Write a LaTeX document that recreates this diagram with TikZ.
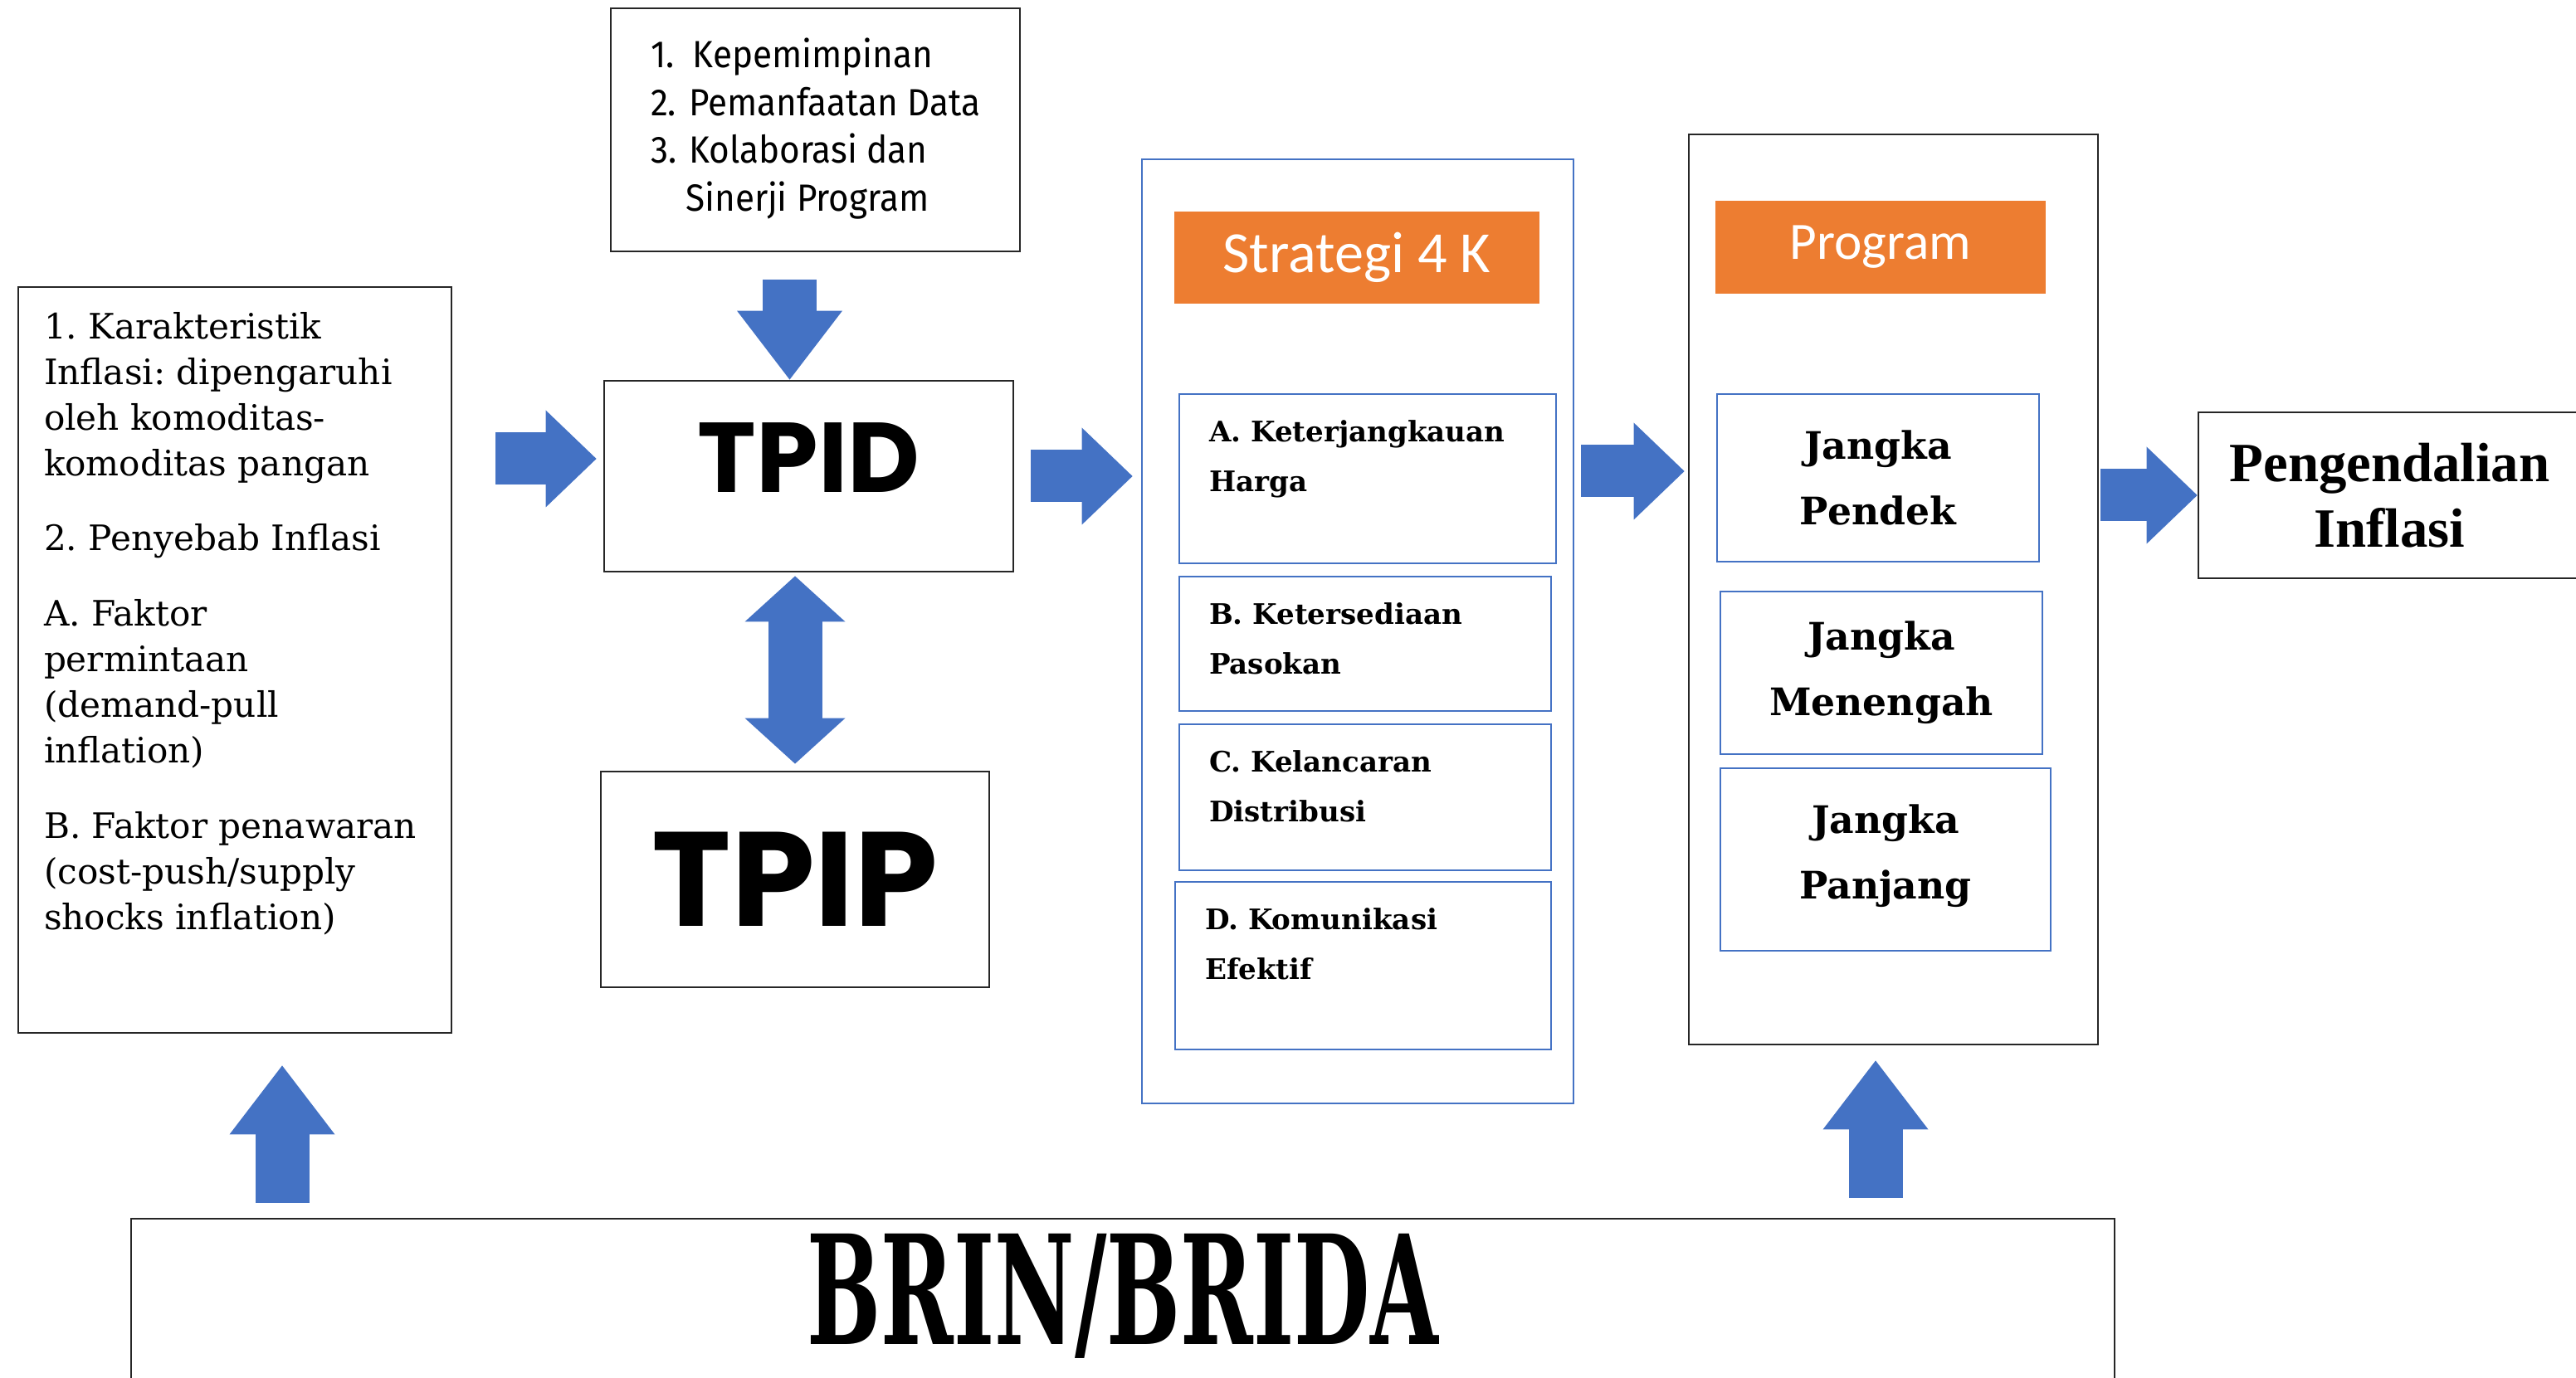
\documentclass[tikz,border=0pt]{standalone}
\usepackage{fontspec}
\usepackage{graphicx}
\setmainfont{DejaVu Serif}
\newfontfamily\dinfont{Fira Sans}
\newfontfamily\tpfont{Poppins}
\newfontfamily\calfont{Carlito}
\newfontfamily\cambfont{Liberation Serif}
\usetikzlibrary{arrows.meta}
\definecolor{biru}{HTML}{4472C4}
\definecolor{oranye}{HTML}{ED7D31}

\begin{document}
\begin{tikzpicture}
  [kotak/.style={draw=black!85,line width=0.8pt},
   kotakbiru/.style={draw=biru,line width=0.8pt,inner xsep=3.6mm,inner ysep=3.2mm},
   label4k/.style={fill=oranye,text=white,inner sep=0pt},
   panah/.style={draw=biru,line width=6.3mm,-{Triangle[length=6.1mm,width=11.7mm,line width=0pt]}},
   panahdua/.style={draw=biru,line width=6.5mm,{Triangle[length=5.5mm,width=12.1mm,line width=0pt]}-{Triangle[length=5.5mm,width=12.1mm,line width=0pt]}},
   panahnaik/.style={draw=biru,line width=6.5mm,-{Triangle[length=8.3mm,width=12.7mm,line width=0pt]}}]

  \useasboundingbox (0,0) rectangle (31.04,-16.61);

  \node[kotak,inner xsep=3.1mm,inner ysep=3mm] (faktor) at (2.83,-7.955)
    {\parbox[c][8.39cm][t]{4.60cm}{\raggedright\frenchspacing\fontsize{12}{15.7}\selectfont
      1. Karakteristik\\
      Inflasi: dipengaruhi\\
      oleh komoditas-\\
      komoditas pangan\\[10pt]
      2. Penyebab Inflasi\\[10pt]
      A. Faktor\\
      permintaan\\
      (demand-pull\\
      inflation)\\[10pt]
      B. Faktor penawaran\\
      (cost-push/supply\\
      shocks inflation)}};

  \node[kotak,minimum width=4.93cm,minimum height=2.93cm] (daftar) at (9.825,-1.565)
    {\scalebox{0.925}[1]{\dinfont\fontsize{13}{16.4}\selectfont
      \begin{tabular}{@{}l@{}}
        1.\ \ Kepemimpinan\\
        2. Pemanfaatan Data\\
        3. Kolaborasi dan\\
        \phantom{3.}\ Sinerji Program
      \end{tabular}}};

  \node[kotak,minimum width=4.93cm,minimum height=2.30cm,text height=8.4mm,text depth=4.4mm,
        font=\tpfont\bfseries\fontsize{34}{34}\selectfont] (tpid) at (9.745,-5.74) {TPID};
  \node[kotak,minimum width=4.68cm,minimum height=2.60cm,
        font=\tpfont\bfseries\fontsize{46}{46}\selectfont] (tpip) at (9.58,-10.60) {TPIP};

  % strategi 4 K
  \node[draw=biru,line width=0.8pt,minimum width=5.20cm,minimum height=11.38cm] (kotak4k) at (16.36,-7.61) {};
  \node[label4k,minimum width=4.40cm,minimum height=1.11cm,
        font=\calfont\fontsize{20}{24}\selectfont] (strategi) at (16.35,-3.105) {Strategi 4 K};
  \node[kotakbiru,font=\bfseries\fontsize{9.7}{17}\selectfont] (harga) at (16.48,-5.77)
    {\parbox[c][1.40cm][t]{3.82cm}{A. Keterjangkauan\\Harga}};
  \node[kotakbiru,font=\bfseries\fontsize{9.7}{17}\selectfont] (pasokan) at (16.45,-7.76)
    {\parbox[c][0.98cm][t]{3.76cm}{B. Ketersediaan\\Pasokan}};
  \node[kotakbiru,font=\bfseries\fontsize{9.7}{17}\selectfont] (distribusi) at (16.45,-9.61)
    {\parbox[c][1.12cm][t]{3.76cm}{C. Kelancaran\\Distribusi}};
  \node[kotakbiru,font=\bfseries\fontsize{9.7}{17}\selectfont] (komunikasi) at (16.425,-11.64)
    {\parbox[c][1.38cm][t]{3.81cm}{D. Komunikasi\\Efektif}};

  % program
  \node[kotak,minimum width=4.93cm,minimum height=10.97cm] (program) at (22.815,-7.105) {};
  \node[label4k,minimum width=3.98cm,minimum height=1.12cm,
        font=\calfont\fontsize{18}{22}\selectfont] (labelprog) at (22.66,-2.98) {Program};
  \node[kotakbiru,minimum width=3.88cm,minimum height=2.02cm,align=center,
        font=\bfseries\fontsize{13}{22.5}\selectfont] (pendek) at (22.63,-5.76) {Jangka\\Pendek};
  \node[kotakbiru,minimum width=3.88cm,minimum height=1.96cm,align=center,
        font=\bfseries\fontsize{13}{22.5}\selectfont] (menengah) at (22.67,-8.11) {Jangka\\Menengah};
  \node[kotakbiru,minimum width=3.98cm,minimum height=2.20cm,align=center,
        font=\bfseries\fontsize{13}{22.5}\selectfont] (panjang) at (22.72,-10.36) {Jangka\\Panjang\\[-17pt]};

  \node[kotak,minimum width=4.61cm,minimum height=2.00cm,align=center,
        font=\cambfont\bfseries\fontsize{19}{22.5}\selectfont] (kendali) at (28.795,-5.97) {Pengendalian\\Inflasi};

  \node[kotak,minimum width=23.90cm,minimum height=2.21cm,text height=1.33cm,text depth=0.52cm] (brin) at (13.53,-15.795)
    {\scalebox{0.577}[1]{\bfseries\fontsize{52}{52}\selectfont BRIN/BRIDA}};

  % panah
  \draw[panah,shorten <=5.2mm,shorten >=0.8mm] ([yshift=2.1mm]faktor.east |- tpid.west) -- ([yshift=2.1mm]tpid.west);
  \draw[panah,shorten <=2mm,shorten >=1mm] (tpid.east) -- (tpid.east -| kotak4k.west);
  \draw[panah,shorten <=0.8mm,shorten >=0.4mm] ([yshift=0.6mm]kotak4k.east |- tpid.east) -- ([yshift=0.6mm]program.west |- tpid.east);
  \draw[panah,shorten <=0.2mm] (program.east |- kendali.west) -- (kendali.west);
  \draw[panahnaik,line width=6.5mm,shorten <=3.3mm] ([xshift=-2.3mm]tpid.north |- daftar.south) -- ([xshift=-2.3mm]tpid.north);
  \draw[panahdua,shorten <=0.4mm,shorten >=0.8mm] (tpid.south -| tpip.north) -- (tpip.north);
  \draw[panahnaik,shorten <=1.8mm,shorten >=3.8mm] ([xshift=5.7mm]faktor.south |- brin.north) -- ([xshift=5.7mm]faktor.south);
  \draw[panahnaik,shorten <=2.4mm,shorten >=1.8mm] ([xshift=-2.15mm]program.south |- brin.north) -- ([xshift=-2.15mm]program.south);

\end{tikzpicture}
\end{document}
